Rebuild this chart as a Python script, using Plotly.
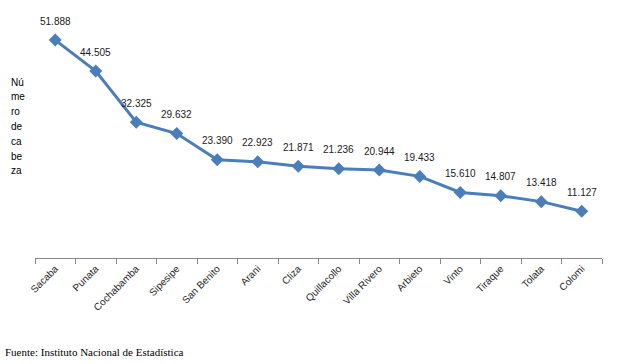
import plotly.graph_objects as go

categories = ["Sacaba", "Punata", "Cochabamba", "Sipesipe", "San Benito", "Arani", "Cliza",
              "Quillacollo", "Villa Rivero", "Arbieto", "Vinto", "Tiraque", "Tolata", "Colomi"]
values = [51.888, 44.505, 32.325, 29.632, 23.390, 22.923, 21.871,
          21.236, 20.944, 19.433, 15.610, 14.807, 13.418, 11.127]
labels = ["51.888", "44.505", "32.325", "29.632", "23.390", "22.923", "21.871",
          "21.236", "20.944", "19.433", "15.610", "14.807", "13.418", "11.127"]
ytitle_parts = ["Nú", "me", "ro", "de", "ca", "be", "za"]
source = "Fuente: Instituto Nacional de Estadística"

W, H = 638, 364
ML, MR, MT, MB = 35, 36, 6, 106
PW, PH = W - ML - MR, H - MT - MB

def px(x):
    return (x - ML) / PW

def py(y):
    return (H - MB - y) / PH

color = "#4A7EBB"
fig = go.Figure()
fig.add_trace(go.Scatter(
    x=categories, y=values, mode="lines+markers",
    line=dict(color=color, width=3),
    marker=dict(symbol="diamond", size=10, color=color),
    hoverinfo="x+y", showlegend=False,
))

for c, v, t in zip(categories, values, labels):
    fig.add_annotation(x=c, y=v, text=t, showarrow=False, yshift=19,
                       font=dict(family="Liberation Sans, Arial", size=10, color="#1a1a1a"))

for i, part in enumerate(ytitle_parts):
    fig.add_annotation(xref="paper", yref="paper", x=px(9), y=py(82 + i * 14.8),
                       xanchor="left", yanchor="middle", text=part, showarrow=False,
                       font=dict(family="Liberation Sans, Arial", size=10, color="#000000"))

fig.add_annotation(xref="paper", yref="paper", x=px(3), y=py(352), xanchor="left", yanchor="middle",
                   text=source, showarrow=False,
                   font=dict(family="Liberation Serif, Times New Roman", size=11, color="#000000"))

fig.update_layout(
    width=W, height=H,
    margin=dict(l=ML, r=MR, t=MT, b=MB, autoexpand=False),
    paper_bgcolor="white", plot_bgcolor="white",
    xaxis=dict(type="category", range=[-0.5, len(categories) - 0.5],
               showline=True, linecolor="#868686", linewidth=1,
               ticks="outside", tickson="boundaries", ticklen=5, tickcolor="#868686",
               tickangle=-45, showgrid=False, zeroline=False, automargin=False,
               tickfont=dict(family="Liberation Sans, Arial", size=10, color="#262626")),
    yaxis=dict(range=[0, 60], showticklabels=False, showgrid=False, zeroline=False,
               showline=False, ticks="", automargin=False),
)

fig.write_html("out.html", config={"displayModeBar": False},
               post_script="document.body.style.margin='0';")
